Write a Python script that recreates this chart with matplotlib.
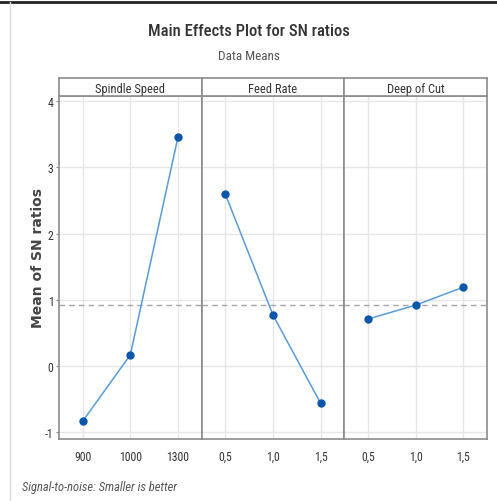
import matplotlib
matplotlib.use("Agg")
import matplotlib.pyplot as plt
from matplotlib.lines import Line2D

# data
factores = ["Spindle Speed", "Feed Rate", "Deep of Cut"]
niveles_spindle = ["900", "1000", "1300"]
niveles_feed = ["0,5", "1,0", "1,5"]
niveles_deep = ["0,5", "1,0", "1,5"]
sn_spindle = [-0.83, 0.17, 3.45]
sn_feed = [2.59, 0.77, -0.56]
sn_deep = [0.71, 0.92, 1.19]
media_global = 0.92
yticks = [-1, 0, 1, 2, 3, 4]

niveles = [niveles_spindle, niveles_feed, niveles_deep]
valores = [sn_spindle, sn_feed, sn_deep]

plt.rcParams['font.family'] = ['Roboto Condensed', 'DejaVu Sans']

W, H = 497, 502
fig = plt.figure(figsize=(W / 100, H / 100), dpi=100)

izq, der = 59, 487
arriba, abajo = 97, 440
tira = 18
ancho = (der - izq) / 3

marco = "#8c8c8c"
rejilla = "#e6e6e6"
azul_linea = "#5b9bd5"
azul_punto = "#0b56a8"

ejes = []
for i in range(3):
    x0 = izq + i * ancho
    ax = fig.add_axes([x0 / W, 1 - abajo / H, ancho / W, (abajo - arriba) / H])
    xs = list(range(1, 4))
    ax.plot(xs, valores[i], color=azul_linea, lw=1.1, zorder=3)
    ax.plot(xs, valores[i], 'o', color=azul_punto, ms=5, zorder=4)
    ax.axhline(media_global, color="#a6a6a6", ls=(0, (4, 3)), lw=1, zorder=2)
    ax.set_xlim(0.5, 3.5)
    ax.set_ylim(-1.1, 4.075)
    ax.set_xticks(xs)
    ax.set_xticklabels(niveles[i], fontsize=8.5, color="#333333")
    ax.set_yticks(yticks)
    ax.grid(True, color=rejilla, lw=1, zorder=0)
    ax.set_axisbelow(True)
    ax.tick_params(axis='x', length=0, pad=8)
    if i == 0:
        ax.set_yticklabels([str(v) for v in yticks], fontsize=8.5, color="#333333")
        ax.tick_params(axis='y', length=2, color=marco, pad=2)
    else:
        ax.tick_params(axis='y', length=0, labelleft=False)
    for s in ax.spines.values():
        s.set_color(marco)
        s.set_linewidth(1.2)
    ejes.append(ax)

    # cabecera de cada panel
    cab = fig.add_axes([x0 / W, 1 - arriba / H, ancho / W, tira / H])
    cab.set_xticks([])
    cab.set_yticks([])
    for s in cab.spines.values():
        s.set_color(marco)
        s.set_linewidth(1.2)
    cab.text(0.5, 0.42, factores[i], ha='center', va='center', fontsize=9,
             color="#333333", transform=cab.transAxes)

ejes[0].set_ylabel("Mean of SN ratios", fontsize=10, fontweight='bold', color="#444444",
                   family='DejaVu Sans')
ejes[0].yaxis.set_label_coords(-14 / ancho, 0.53)

fig.text(0.5, 1 - 32 / H, "Main Effects Plot for SN ratios", ha='center', va='center',
         fontsize=12, fontweight='medium', color="#333333")
fig.text(0.5, 1 - 56 / H, "Data Means", ha='center', va='center', fontsize=9.5, color="#555555")
fig.text(22 / W, 1 - 488 / H, "Signal-to-noise: Smaller is better", ha='left', va='center',
         fontsize=9, style='italic', color="#555555")

# bordes de la captura
fig.add_artist(Line2D([0, 1], [1 - 3 / H, 1 - 3 / H], color="#222222", lw=2, transform=fig.transFigure))
fig.add_artist(Line2D([10 / W, 10 / W], [0, 1 - 3 / H], color="#dddddd", lw=1, transform=fig.transFigure))

fig.savefig("out.png", dpi=100)
